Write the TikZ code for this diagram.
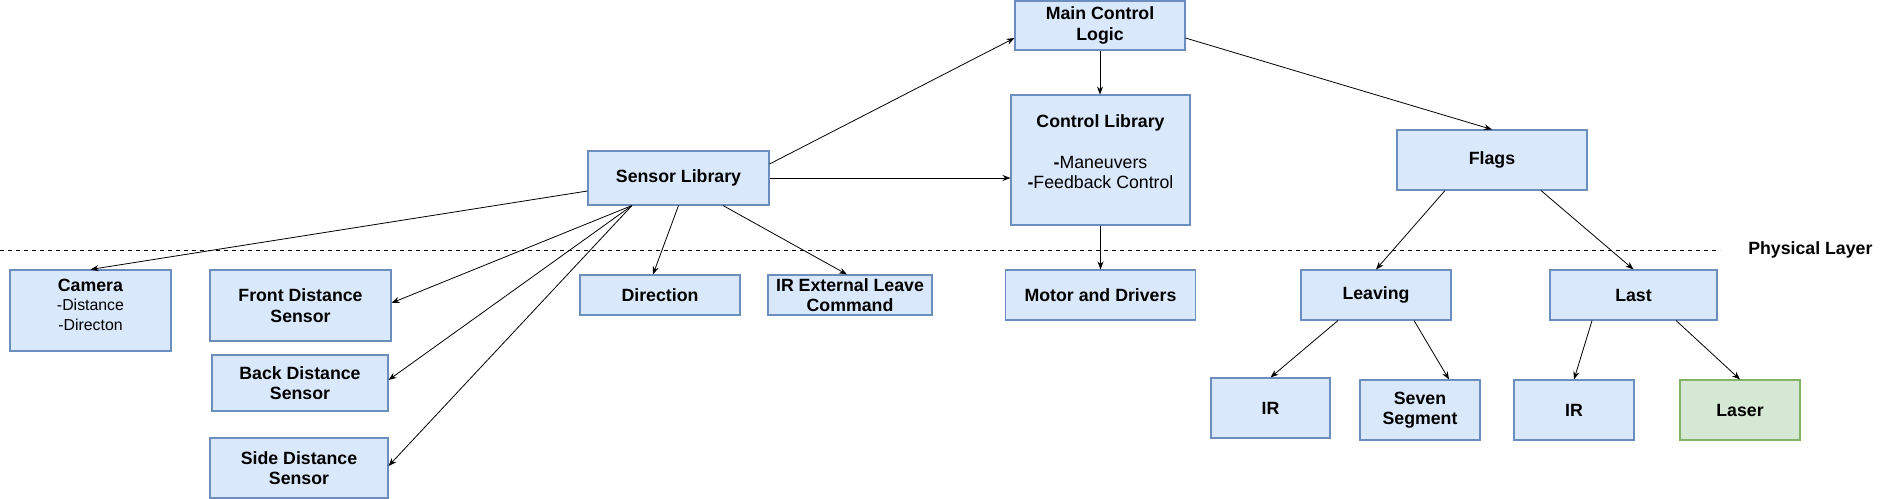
\documentclass[tikz,border=0pt]{standalone}
\usepackage{fontspec}
\setmainfont{Liberation Sans}
\usetikzlibrary{arrows.meta}
\definecolor{bfill}{HTML}{DAE8FC}
\definecolor{bdraw}{HTML}{6C8EBF}
\definecolor{gfill}{HTML}{D5E8D4}
\definecolor{gdraw}{HTML}{82B366}
\newcommand{\smallsz}{\fontsize{11.9}{14}\selectfont}
\tikzset{
  box/.style={draw=bdraw, fill=bfill, line width=0.8pt, inner sep=0pt, align=center,
    font=\fontsize{13.3}{15.4}\selectfont\bfseries},
  greenbox/.style={box, draw=gdraw, fill=gfill},
  txt/.style={inner sep=0pt, align=center, font=\fontsize{13.3}{15.4}\selectfont},
  arr/.style={line width=0.6pt, -{Stealth[length=6pt,width=4.5pt]}},
  sep/.style={line width=0.6pt, dash pattern=on 3pt off 3pt}
}
\begin{document}
\begin{tikzpicture}[x=0.75pt,y=-0.75pt]
\useasboundingbox (0,0) rectangle (1881,499);
% nodes
\node[box, minimum width=127.5pt, minimum height=36.75pt] (main) at (1100,25.5) {Main Control\\Logic};
\node[box, minimum width=134.25pt, minimum height=97.5pt] (ctrl) at (1100.5,160) {};
\node[txt] (ctrltxt) at (1100.5,151.5) {\textbf{Control Library}\\[15.4pt]\textbf{-}Maneuvers\\\textbf{-}Feedback Control};
\node[box, minimum width=135.75pt, minimum height=40.5pt] (sensor) at (678.5,178) {Sensor Library};
\node[box, minimum width=142.5pt, minimum height=45pt] (flags) at (1492,160) {Flags};
\node[box, minimum width=120.75pt, minimum height=60.75pt] (camera) at (90.5,310.5) {};
\node[txt] (cameratxt) at (90.5,305) {\textbf{Camera}\\[-1pt]\smallsz -Distance\\\smallsz -Directon};
\node[box, minimum width=135.75pt, minimum height=53.25pt] (front) at (300.5,305.5) {Front Distance\\Sensor};
\node[box, minimum width=132pt, minimum height=42pt] (back) at (300,383) {Back Distance\\Sensor};
\node[box, minimum width=133.5pt, minimum height=45pt] (side) at (299,468) {Side Distance\\Sensor};
\node[box, minimum width=120pt, minimum height=30pt] (direction) at (660,295) {Direction};
\node[box, minimum width=123pt, minimum height=30pt] (irext) at (850,295) {IR External Leave\\Command};
\node[box, minimum width=142.5pt, minimum height=37.5pt] (motor) at (1100.5,295) {Motor and Drivers};
\node[box, minimum width=112.5pt, minimum height=37.5pt] (leaving) at (1376,295) {Leaving};
\node[box, minimum width=125.25pt, minimum height=37.5pt] (last) at (1633.5,295) {Last};
\node[box, minimum width=89.25pt, minimum height=45pt] (irone) at (1270.5,408) {IR};
\node[box, minimum width=90pt, minimum height=45pt] (seven) at (1420,410) {Seven\\Segment};
\node[box, minimum width=90pt, minimum height=45pt] (irtwo) at (1574,410) {IR};
\node[greenbox, minimum width=90pt, minimum height=45pt] (laser) at (1740,410) {Laser};
% physical layer
\coordinate (layerL) at (0,250);
\coordinate (layerR) at (1720,250);
\draw[sep] (layerL) -- (layerR);
\node[txt, font=\fontsize{13.3}{15.4}\selectfont\bfseries, anchor=west] (layer) at (1748,250) {Physical Layer};
% connectors
\draw[arr] ([yshift=-9.75pt]sensor.west) -- (camera.north);
\draw[arr] ([xshift=-34.9pt]sensor.south) -- ([yshift=1.9pt]front.east);
\draw[arr] ([xshift=-34.9pt]sensor.south) -- ([yshift=2.25pt]back.east);
\draw[arr] ([xshift=-34.9pt]sensor.south) -- ([yshift=1.5pt]side.east);
\draw[arr] (sensor.south) -- ([xshift=-5.25pt]direction.north);
\draw[arr] ([xshift=33.4pt]sensor.south) -- ([xshift=-2.25pt]irext.north);
\draw[arr] ([yshift=10.5pt]sensor.east) -- ([yshift=-9.4pt]main.west);
\draw[arr] (sensor.east) -- (sensor.east -| ctrl.west);
\draw[arr] (main.south) -- (main.south |- ctrl.north);
\draw[arr] ([yshift=-9.4pt]main.east) -- (flags.north);
\draw[arr] (ctrl.south) -- (ctrl.south |- motor.north);
\draw[arr] ([xshift=-35.25pt]flags.south) -- (leaving.north);
\draw[arr] ([xshift=36.75pt]flags.south) -- (last.north);
\draw[arr] ([xshift=-28.5pt]leaving.south) -- (irone.north);
\draw[arr] ([xshift=28.5pt]leaving.south) -- ([xshift=21.75pt]seven.north);
\draw[arr] ([xshift=-31.1pt]last.south) -- (irtwo.north);
\draw[arr] ([xshift=31.9pt]last.south) -- (laser.north);
\end{tikzpicture}
\end{document}
